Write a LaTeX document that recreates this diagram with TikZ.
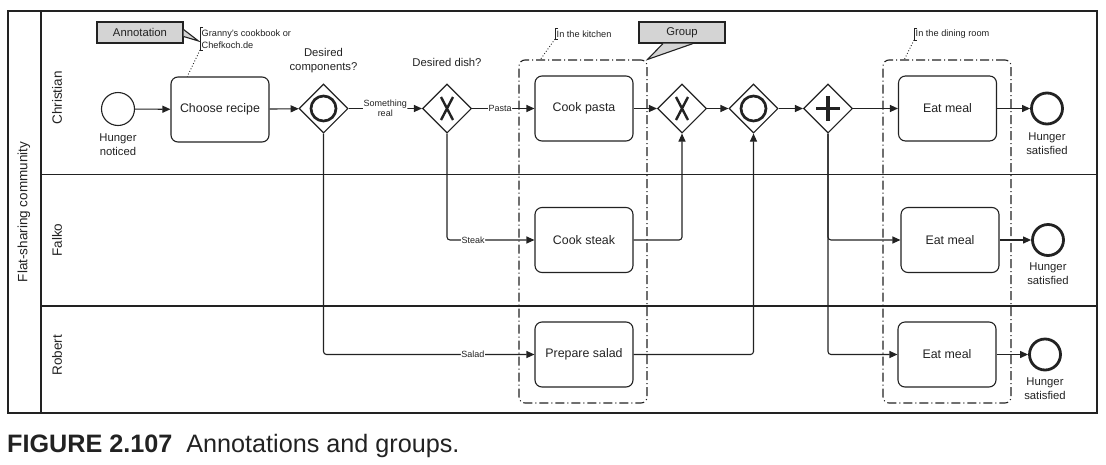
\documentclass[tikz,border=0pt]{standalone}
\usepackage{fontspec}
\setmainfont{Liberation Sans}
\usetikzlibrary{calc,arrows.meta,shapes.geometric}
\newcommand{\sz}[2]{\fontsize{#1}{#2}\selectfont}
\definecolor{ink}{HTML}{222222}
\definecolor{callgray}{HTML}{D4D4D4}

\begin{document}
\begin{tikzpicture}[x=1pt,y=-1pt,color=ink,
    frame/.style={line width=1.3pt},
    task/.style={draw, rounded corners=7pt, line width=1.1pt, minimum width=98pt, minimum height=65pt, font=\sz{12.4}{15}},
    gw/.style={draw, diamond, aspect=1, inner sep=0pt, minimum size=49pt, line width=1.1pt, fill=white},
    startev/.style={draw, circle, minimum size=33pt, inner sep=0pt, line width=1.1pt},
    endev/.style={draw, circle, minimum size=31pt, inner sep=0pt, line width=2.8pt},
    flow/.style={line width=1.1pt, -{Triangle[length=8pt,width=7pt]}, rounded corners=3pt},
    lab/.style={font=\sz{11.3}{14}, align=center},
    small/.style={font=\sz{9.2}{12}, align=left, inner sep=1.5pt},
    flowlab/.style={font=\sz{9}{10}, fill=white, inner sep=0.5pt, align=center},
    grp/.style={draw, rounded corners=6pt, line width=1.1pt, dash pattern=on 9pt off 3pt on 1pt off 3pt},
    assoc/.style={dotted, line width=0.9pt},
    callbox/.style={draw, fill=callgray, line width=1.1pt, minimum width=86pt, minimum height=21pt, inner sep=0pt, font=\sz{11.3}{13}},
    lane/.style={font=\sz{13.5}{16}, rotate=90}]
    \useasboundingbox (0,0) rectangle (1106,464);
    \pgfmathsetmacro{\ra}{108.5}
    \pgfmathsetmacro{\rb}{240}
    \pgfmathsetmacro{\rc}{354.5}

    % pool and lanes
    \draw[frame] (8,11) rectangle (1097,413) (41,11) -- (41,413)
        (41,174.5) -- (1097,174.5) (41,306) -- (1097,306);
    \node[lane] (pool) at (24,212) {Flat-sharing community};
    \node[lane] (christian) at (57,98) {Christian};
    \node[lane] (falko) at (57,240) {Falko};
    \node[lane] (robert) at (57,355) {Robert};

    % groups
    \node[grp, minimum width=128pt, minimum height=343pt] (kitchen) at (583,231.5) {};
    \node[grp, minimum width=128pt, minimum height=343pt] (dining) at (947,231.5) {};

    \node[startev] (start) at (118,109) {};
    \node[lab] (startlab) at (118,144.5) {Hunger\\noticed};
    \node[task] (choose) at (220,109.5) {Choose recipe};
    \node[gw] (gwcomp) at (323.5,\ra) {};
    \node[lab] (gwcomplab) at (323.5,61) {Desired\\components?};
    \node[gw] (gwdish) at (447,\ra) {};
    \node[lab] (gwdishlab) at (447,62) {Desired dish?};
    \node[task] (pasta) at (584,\ra) {Cook pasta};
    \node[task] (steak) at (584,\rb) {Cook steak};
    \node[task] (salad) at (584,\rc) {Prepare salad};
    \node[gw] (gwxor) at (682,\ra) {};
    \node[gw] (gwor) at (753.5,\ra) {};
    \node[gw] (gwand) at (828,\ra) {};
    \node[task] (eatc) at (947.5,\ra) {Eat meal};
    \node[task] (eatf) at (950,\rb) {Eat meal};
    \node[task] (eatr) at (947,\rc) {Eat meal};
    \node[endev] (endc) at (1047,\ra) {};
    \node[endev] (endf) at (1048,\rb) {};
    \node[endev] (endr) at (1045,\rc) {};
    \node[lab] (endclab) at (1047,143.5) {Hunger\\satisfied};
    \node[lab] (endflab) at (1048,274) {Hunger\\satisfied};
    \node[lab] (endrlab) at (1045,389) {Hunger\\satisfied};

    % gateway markers
    \draw[line width=2.7pt] (gwcomp) circle (12.5) (gwor) circle (12.5);
    \foreach \g in {gwdish,gwxor}{
        \draw[line width=2.4pt] ($(\g)+(-6,-11.5)$) -- ($(\g)+(6,11.5)$)
            ($(\g)+(6,-11.5)$) -- ($(\g)+(-6,11.5)$);
    }
    \draw[line width=3.5pt] ($(gwand)+(-12,0)$) -- ($(gwand)+(12,0)$)
        ($(gwand)+(0,-12.5)$) -- ($(gwand)+(0,12.5)$);

    % sequence flows
    \draw[flow] (start) -- (choose);
    \draw[flow] (choose) -- (gwcomp);
    \draw[flow] (gwcomp) -- node[flowlab] {Something\\real} (gwdish);
    \draw[flow] (gwdish) -- node[flowlab, pos=0.45] {Pasta} (pasta);
    \draw[flow] (gwdish) |- node[flowlab, pos=0.65] {Steak} (steak);
    \draw[flow] (gwcomp) |- node[flowlab, pos=0.854] {Salad} (salad);
    \draw[flow] (pasta) -- (gwxor);
    \draw[flow] (steak) -| (gwxor);
    \draw[flow] (gwxor) -- (gwor);
    \draw[flow] (salad) -| (gwor);
    \draw[flow] (gwor) -- (gwand);
    \draw[flow] (gwand) -- (eatc);
    \draw[flow] (gwand) |- (eatf);
    \draw[flow] (gwand) |- (eatr);
    \draw[flow] (eatc) -- (endc);
    \draw[flow] (eatf) -- (endf);
    \draw[flow] (eatr) -- (endr);

    % text annotations
    \node[small, anchor=west] (granny) at (200,39) {Granny's cookbook or\\Chefkoch.de};
    \node[small, anchor=west] (kitchennote) at (555,34) {In the kitchen};
    \node[small, anchor=west] (diningnote) at (914,34) {In the dining room};
    \foreach \n in {granny,kitchennote,diningnote}{
        \draw[line width=0.9pt] ([xshift=3pt]\n.north west) -- (\n.north west)
            -- (\n.south west) -- ([xshift=3pt]\n.south west);
    }
    \draw[assoc] (granny.south west) -- ($(choose.north west)!0.17!(choose.north east)$);
    \draw[assoc] (kitchennote.south west) -- ($(kitchen.north west)!0.17!(kitchen.north east)$);
    \draw[assoc] (diningnote.south west) -- ($(dining.north west)!0.17!(dining.north east)$);

    % callouts
    \node[callbox] (annotbox) at (140,32.5) {Annotation};
    \node[callbox] (groupbox) at (682,32.5) {Group};
    \filldraw[fill=callgray, line width=1.1pt] ([yshift=3pt]annotbox.east)
        -- ([xshift=-1.5pt,yshift=-2pt]granny.west) -- ([yshift=-4pt]annotbox.east);
    \filldraw[fill=callgray, line width=1.1pt] ([xshift=-19pt]groupbox.south)
        -- (kitchen.north east) -- ([xshift=11pt]groupbox.south);

    % caption
    \node[anchor=base west, inner sep=0pt, font=\sz{25.2}{28}] (caption) at (7,452)
        {\textbf{FIGURE 2.107}\hspace{0.55em}Annotations and groups.};
\end{tikzpicture}
\end{document}
